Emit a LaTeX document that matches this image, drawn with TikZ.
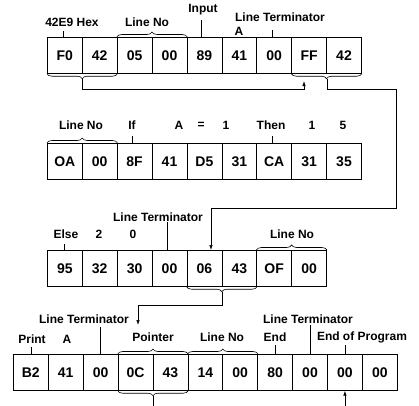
\documentclass[tikz,border=0pt]{standalone}
\usepackage{fontspec}
\setmainfont{Liberation Sans}
\usetikzlibrary{decorations.pathreplacing,arrows.meta,calc}
\begin{document}
\begin{tikzpicture}[x=1pt,y=-1pt,
  cell/.style={draw,line width=0.7pt,minimum width=34.9pt,minimum height=36pt,inner sep=0pt,anchor=north west,font=\fontsize{14}{14}\selectfont\bfseries},
  lbl/.style={inner sep=0pt,font=\fontsize{12}{12}\selectfont\bfseries},
  tick/.style={line width=0.7pt},
  conn/.style={line width=0.7pt},
  arr/.style={line width=0.7pt,-{Latex[length=5pt,width=3.5pt]}},
  brc/.style={line width=0.6pt,decorate,decoration={brace,amplitude=5pt}}]
\useasboundingbox (0,0) rectangle (419,405);
% cells
\foreach \t [count=\i] in {F0,42,05,00,89,41,00,FF,42}
  \node[cell] (r1c\i) at ({47+(\i-1)*34.9},37) {\t};
\foreach \t [count=\i] in {OA,00,8F,41,D5,31,CA,31,35}
  \node[cell] (r2c\i) at ({47+(\i-1)*34.9},143) {\t};
\foreach \t [count=\i] in {95,32,30,00,06,43,OF,00}
  \node[cell] (r3c\i) at ({47+(\i-1)*34.9},250) {\t};
\foreach \t [count=\i] in {B2,41,00,0C,43,14,00,80,00,00,00}
  \node[cell] (r4c\i) at ({13+(\i-1)*34.9},354) {\t};
% row 1 labels
\node[lbl] (l11) at (72,22) {42E9 Hex};
\node[lbl] (l12) at (147,22) {Line No};
\node[lbl] (l13) at (203,10) {Input};
\node[lbl] (l14) at (239,31) {A};
\node[lbl] (l15) at (280,17) {Line Terminator};
\draw[tick] ($(r1c1.north)+(-1,0)$) -- ++(0,-6);
\draw[tick] ($(r1c5.north)+(-3,0)$) -- ++(0,-17);
\draw[tick] ($(r1c7.north)+(-2,0)$) -- ++(0,-7);
\draw[brc] (r1c3.north west) -- (r1c4.north east);
\draw[brc] (r1c2.south east) -- (r1c1.south west);
\draw[brc] (r1c9.south east) -- (r1c8.south west);
% row 2 labels
\node[lbl] (l21) at (81,125) {Line No};
\node[lbl] (l22) at (132,125) {If};
\node[lbl] (l23) at (179,125) {A};
\node[lbl] (l24) at (201,125) {=};
\node[lbl] (l25) at (226,125) {1};
\node[lbl] (l26) at (271,125) {Then};
\node[lbl] (l27) at (312,125) {1};
\node[lbl] (l28) at (343,125) {5};
\draw[brc] (r2c1.north west) -- (r2c2.north east);
\draw[tick] ($(r2c3.north)+(-2,0)$) -- ++(0,-7);
\draw[tick] ($(r2c7.north)+(-2,0)$) -- ++(0,-7);
% row 3 labels
\node[lbl] (l31) at (66,234) {Else};
\node[lbl] (l32) at (99,234) {2};
\node[lbl] (l33) at (133,234) {0};
\node[lbl] (l34) at (158,217) {Line Terminator};
\node[lbl] (l35) at (292,234) {Line No};
\draw[tick] (r3c1.north) -- ++(0,-6);
\draw[tick] ($(r3c4.north)+(-2,0)$) -- ++(0,-28);
\draw[brc] (r3c7.north west) -- (r3c8.north east);
\draw[brc] (r3c6.south east) -- (r3c5.south west);
% row 4 labels
\node[lbl] (l41) at (84,319) {Line Terminator};
\node[lbl] (l42) at (32,339) {Print};
\node[lbl] (l43) at (67,339) {A};
\node[lbl] (l44) at (153,337) {Pointer};
\node[lbl] (l45) at (222,337) {Line No};
\node[lbl] (l46) at (275,337) {End};
\node[lbl] (l47) at (308,319) {Line Terminator};
\node[lbl] (l48) at (362,337) {End of Program};
\draw[tick] (r4c3.north) -- ++(0,-27);
\draw[tick] ($(r4c1.north)+(1,0)$) -- ++(0,-7);
\draw[tick] (r4c8.north) -- ++(0,-9);
\draw[tick] (r4c9.north) -- ++(0,-29);
\draw[tick] (r4c10.north) -- ++(0,-9);
\draw[brc] (r4c4.north west) -- (r4c5.north east);
\draw[brc] (r4c5.south east) -- (r4c4.south west);
\draw[brc] (r4c6.north west) -- (r4c7.north east);
% connectors
\coordinate (t1) at ($(r1c1.south east)+(0,5)$);
\coordinate (j1) at (304,89);
\coordinate (a1) at (304,81);
\draw[arr] (t1) |- (j1) -- (a1);
\coordinate (t2) at ($(r1c8.south east)+(0,5)$);
\coordinate (k1) at (396,89);
\coordinate (k2) at (211,208);
\draw[arr] (t2) |- (k1) |- (k2) -- (k2 |- r3c5.north);
\coordinate (t3) at ($(r3c5.south east)+(0,5)$);
\coordinate (k3) at (138,305);
\coordinate (a3) at (138,325);
\draw[arr] (t3) |- (k3) -- (a3);
\coordinate (t4) at ($(r4c4.south east)+(0,5)$);
\coordinate (e4) at ($(t4)+(0,12)$);
\draw[conn] (t4) -- (e4);
\coordinate (e5) at ($(r4c10.south)+(0,15)$);
\draw[arr] (e5) -- (r4c10.south);
\end{tikzpicture}
\end{document}
